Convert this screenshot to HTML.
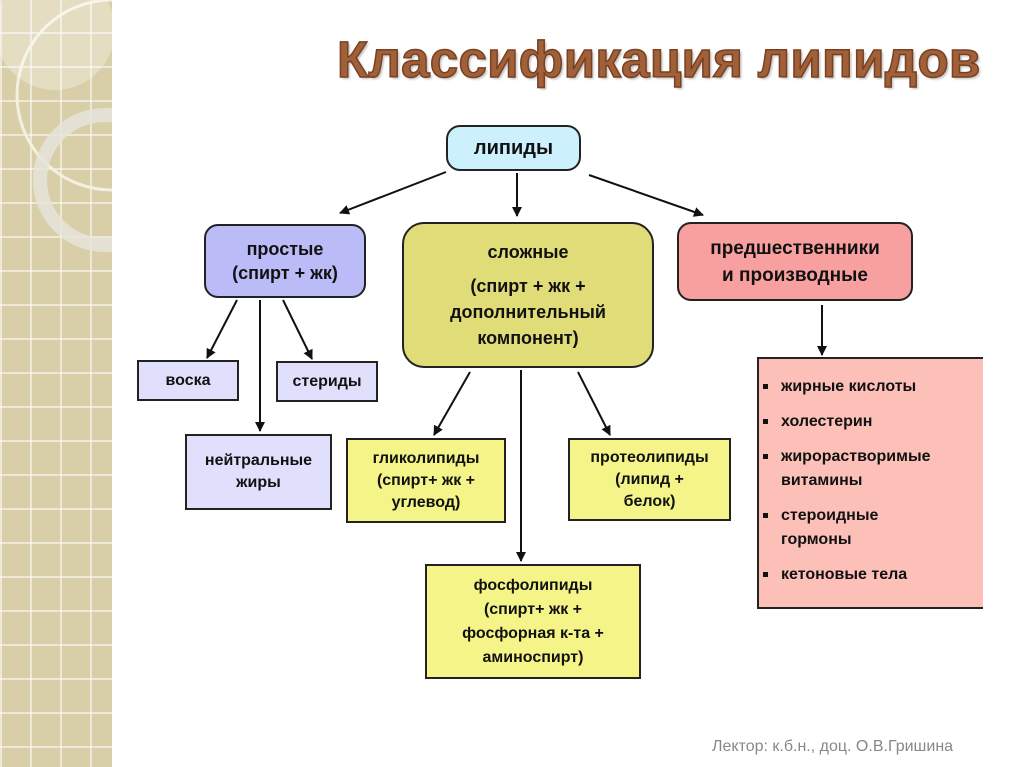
<!DOCTYPE html>
<html><head><meta charset="utf-8"><style>
body{margin:0;width:1024px;height:767px;position:relative;background:#fff;font-family:"Liberation Sans",sans-serif;overflow:hidden}
.strip{position:absolute;left:0;top:0;width:112px;height:767px;background-color:#d8cfa8;
background-image:linear-gradient(90deg,rgba(255,255,255,.55) 2px,transparent 2px),linear-gradient(0deg,rgba(255,255,255,.55) 2px,transparent 2px);background-size:30px 34px}
.b{position:absolute;box-sizing:border-box;border:2px solid #222;display:flex;flex-direction:column;align-items:center;justify-content:center;text-align:center;font-weight:bold;color:#111;font-size:16px;line-height:22px}
.r{border-radius:14px}
.title{position:absolute;left:337px;top:30px;font-size:51px;font-weight:bold;color:#a0603a;-webkit-text-stroke:1.5px #7a4020;letter-spacing:0.3px;text-shadow:2px 2px 2px rgba(0,0,0,.25);white-space:nowrap}
ul{margin:0;padding:0;list-style:none;text-align:left}
li{position:relative;padding-left:22px;margin-bottom:11px}
li:before{content:"";position:absolute;left:4px;top:9px;width:5px;height:5px;background:#111}
</style></head><body>
<div class="strip"></div>
<svg style="position:absolute;left:0;top:0" width="112" height="767">
<circle cx="112" cy="95" r="95" fill="none" stroke="#f4f0e0" stroke-width="3"/>
<circle cx="105" cy="180" r="65" fill="none" stroke="#e6e4dc" stroke-width="14" opacity=".85"/>
<circle cx="55" cy="30" r="60" fill="#fff" opacity=".3"/>
</svg>
<div class="title">Классификация липидов</div>
<svg style="position:absolute;left:0;top:0" width="1024" height="767">
<defs><marker id="a" markerWidth="10" markerHeight="10" refX="9" refY="5" orient="auto" markerUnits="userSpaceOnUse"><path d="M0,0 L10,5 L0,10 z" fill="#111"/></marker></defs>
<g stroke="#111" stroke-width="2" marker-end="url(#a)">
<line x1="446" y1="172" x2="340" y2="213"/>
<line x1="517" y1="173" x2="517" y2="216"/>
<line x1="589" y1="175" x2="703" y2="215"/>
<line x1="237" y1="300" x2="207" y2="358"/>
<line x1="260" y1="300" x2="260" y2="431"/>
<line x1="283" y1="300" x2="312" y2="359"/>
<line x1="470" y1="372" x2="434" y2="435"/>
<line x1="521" y1="370" x2="521" y2="561"/>
<line x1="578" y1="372" x2="610" y2="435"/>
<line x1="822" y1="305" x2="822" y2="355"/>
</g></svg>
<div class="b r" style="left:446px;top:125px;width:135px;height:46px;background:#ccf0fc;font-size:20px">липиды</div>
<div class="b r" style="left:204px;top:224px;width:162px;height:74px;background:#bbbbf8;font-size:18px;line-height:24px"><div>простые<br>(спирт + жк)</div></div>
<div class="b r" style="left:402px;top:222px;width:252px;height:146px;background:#e0dc78;font-size:18px;line-height:26px;border-radius:22px"><div>сложные</div><div style="margin-top:8px">(спирт + жк +<br>дополнительный<br>компонент)</div></div>
<div class="b r" style="left:677px;top:222px;width:236px;height:79px;background:#f8a0a0;font-size:19px;line-height:27px"><div>предшественники<br>и производные</div></div>
<div class="b" style="left:137px;top:360px;width:102px;height:41px;background:#e0e0fc">воска</div>
<div class="b" style="left:276px;top:361px;width:102px;height:41px;background:#e0e0fc">стериды</div>
<div class="b" style="left:185px;top:434px;width:147px;height:76px;background:#e0e0fc"><div>нейтральные<br>жиры</div></div>
<div class="b" style="left:346px;top:438px;width:160px;height:85px;background:#f4f488"><div>гликолипиды<br>(спирт+ жк +<br>углевод)</div></div>
<div class="b" style="left:568px;top:438px;width:163px;height:83px;background:#f4f488"><div>протеолипиды<br>(липид +<br>белок)</div></div>
<div class="b" style="left:425px;top:564px;width:216px;height:115px;background:#f4f488;line-height:24px"><div>фосфолипиды<br>(спирт+ жк +<br>фосфорная к-та +<br>аминоспирт)</div></div>
<div class="b" style="left:757px;top:357px;width:226px;height:252px;background:#fcc0b8;border-right:none;justify-content:flex-start;align-items:flex-start;padding:16px 0 0 0;font-size:16px;line-height:24px">
<ul><li>жирные кислоты</li><li>холестерин</li><li>жирорастворимые<br>витамины</li><li>стероидные<br>гормоны</li><li>кетоновые тела</li></ul></div>
<div style="position:absolute;left:712px;top:738px;font-size:16px;color:#888">Лектор: к.б.н., доц. О.В.Гришина</div>
</body></html>
